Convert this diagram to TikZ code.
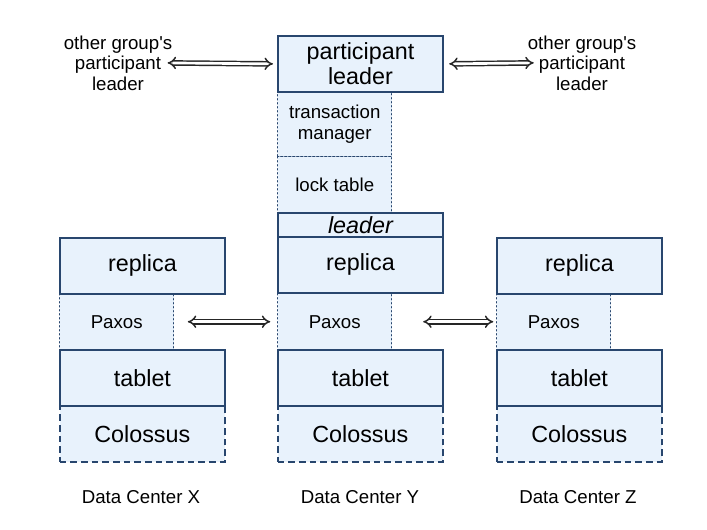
\documentclass[tikz,border=0pt]{standalone}
\usepackage{fontspec}
\setmainfont{Liberation Sans}[Ligatures=TeXOff]
\usetikzlibrary{arrows.meta}
\definecolor{boxfill}{RGB}{232,242,252}
\definecolor{boxline}{RGB}{40,70,110}
\tikzset{
  % solid layer of a data center
  layer/.style={draw=boxline, line width=1.4pt, fill=boxfill,
    minimum width=123.75pt, minimum height=42pt, inner sep=0pt,
    anchor=north west, font=\fontsize{17.5}{19}\selectfont},
  % narrow box with dotted sides
  side/.style={draw=boxline, line width=1.1pt, dash pattern=on 0.8pt off 2.2pt,
    line cap=round, fill=boxfill, minimum width=85.5pt, minimum height=42pt,
    inner sep=0pt, anchor=north west, font=\fontsize{14}{15.5}\selectfont},
  % storage layer with dashed border
  store/.style={layer, line width=1.2pt, dash pattern=on 5pt off 3pt},
  % plain text
  txt/.style={align=center, font=\fontsize{14}{15.5}\selectfont},
  % double arrow between peers
  dbl/.style={draw=black!85, double=white, double distance=2pt,
    line width=1.1pt, {Implies}-{Implies}},
}

\begin{document}
\begin{tikzpicture}[x=0.75pt,y=-0.75pt]
\useasboundingbox (0,0) rectangle (707,530);
% Data Center X
\node[side] (paxX) at (59,293) {Paxos};
\node[store] (colX) at (59,405) {Colossus};
\node[layer] (repX) at (59,237) {replica};
\node[layer] (tabX) at (59,349) {tablet};
% Data Center Y
\node[side, minimum height=48.75pt, align=center] (tm) at (277,91) {transaction\\manager};
\node[side] (lt) at (277,156) {lock table};
\node[side] (paxY) at (277,293) {Paxos};
\node[store] (colY) at (277,405) {Colossus};
\node[layer, align=center] (pl) at (277,35) {participant\\leader};
\node[layer, minimum height=18pt, font=\fontsize{17.5}{19}\selectfont\itshape] (ldr) at (277,212) {leader};
\node[layer] (repY) at (277,236) {replica};
\node[layer] (tabY) at (277,349) {tablet};
% Data Center Z
\node[side] (paxZ) at (496,293) {Paxos};
\node[store] (colZ) at (496,405) {Colossus};
\node[layer] (repZ) at (496,237) {replica};
\node[layer] (tabZ) at (496,349) {tablet};
% other groups
\node[txt] (ogL) at (118,63) {other group's\\participant\\leader};
\node[txt] (ogR) at (582,63) {other group's\\participant\\leader};
% captions
\node[txt] (dcX) at (141,497) {Data Center X};
\node[txt] (dcY) at (360,497) {Data Center Y};
\node[txt] (dcZ) at (578,497) {Data Center Z};
% arrows
\draw[dbl, shorten <=-7pt, shorten >=3pt] (ogL.east) -- (pl.west);
\draw[dbl, shorten <=4pt, shorten >=-8pt] (pl.east) -- (ogR.west);
\draw[dbl, shorten <=10pt, shorten >=5pt] (paxX.east) -- (paxY.west);
\draw[dbl, shorten <=23pt, shorten >=2pt] (paxY.east) -- (paxZ.west);
\end{tikzpicture}
\end{document}
